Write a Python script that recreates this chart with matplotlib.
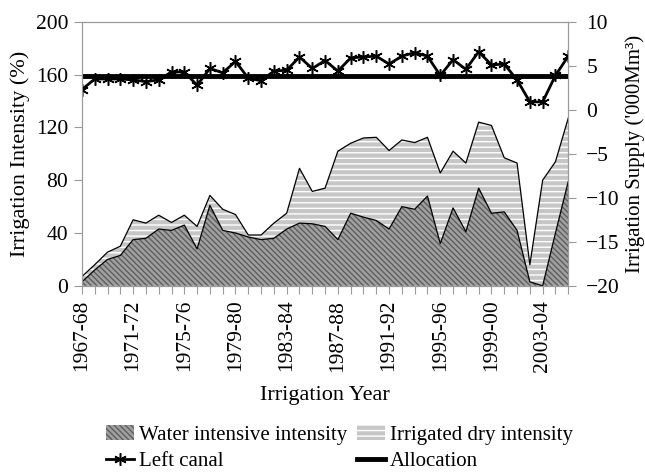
import numpy as np
import matplotlib
matplotlib.use("Agg")
import matplotlib.pyplot as plt
from matplotlib.patches import Patch
from matplotlib.lines import Line2D

plt.rcParams['font.family'] = ['Liberation Serif', 'DejaVu Serif']
plt.rcParams['hatch.linewidth'] = 1.0

# irrigation years, 1967-68 .. 2005-06
years = ['1967-68', '1968-69', '1969-70', '1970-71', '1971-72', '1972-73', '1973-74',
         '1974-75', '1975-76', '1976-77', '1977-78', '1978-79', '1979-80', '1980-81',
         '1981-82', '1982-83', '1983-84', '1984-85', '1985-86', '1986-87', '1987-88',
         '1988-89', '1989-90', '1990-91', '1991-92', '1992-93', '1993-94', '1994-95',
         '1995-96', '1996-97', '1997-98', '1998-99', '1999-00', '2000-01', '2001-02',
         '2002-03', '2003-04', '2004-05', '2005-06']

# irrigation intensity (%)
water_intensive = [3, 12, 20, 23, 35, 36, 43, 42, 46, 28, 61, 42, 40, 37, 35, 36, 43, 47.5, 47, 45,
                   35, 55, 52, 49.5, 43, 60, 58, 68, 32, 59, 41, 74, 55, 56, 42, 3, 0, 40, 79]
irrigated_dry = [4, 4, 5.5, 7, 15, 11.5, 10.5, 6, 7.5, 17, 7.5, 16, 14, 1.5, 3.5, 11.5, 12, 41.5, 24.5, 29,
                 67, 53, 60, 63, 59.5, 50.5, 50.5, 44.5, 53.5, 43, 52, 50, 66.5, 41, 51, 13, 80, 54, 48]

# irrigation supply ('000 Mm3)
left_canal = [2.3, 3.5, 3.5, 3.5, 3.4, 3.2, 3.4, 4.3, 4.3, 2.8, 4.7, 4.2, 5.5, 3.6, 3.3, 4.4, 4.5, 6.0, 4.7,
              5.6, 4.4, 5.9, 6.0, 6.1, 5.2, 6.1, 6.5, 6.1, 3.9, 5.7, 4.6, 6.6, 5.1, 5.2, 3.4, 0.9, 0.9, 3.9, 6.1]
allocation = 3.8

x = np.arange(len(years))
wi = np.array(water_intensive)
total = wi + np.array(irrigated_dry)

fig = plt.figure(figsize=(6.45, 4.74), dpi=100)
ax = fig.add_axes([0.127, 0.397, 0.754, 0.557])

dark_face, dark_hatch = '#a0a0a0', '#5e5e5e'
light_face, light_hatch = '#c6c6c6', 'white'
dark_pat, light_pat = '\\' * 6, '---'

ax.fill_between(x, 0, wi, facecolor=dark_face, edgecolor=dark_hatch, hatch=dark_pat, linewidth=0)
ax.fill_between(x, wi, total, facecolor=light_face, edgecolor=light_hatch, hatch=light_pat, linewidth=0)
ax.plot(x, wi, color='black', lw=0.9)
ax.plot(x, total, color='black', lw=0.9)

ax.set_xlim(0, len(years) - 1)
ax.set_ylim(0, 200)
ax.set_yticks(np.arange(0, 201, 40))
ax.set_xticks(x)
ax.set_xticklabels([y if i % 4 == 0 else '' for i, y in enumerate(years)], rotation=90)

ax2 = ax.twinx()
ax2.plot(x, left_canal, color='black', lw=2, marker=(6, 2, 0), ms=9, mew=1.1)
ax2.plot(x, [allocation] * len(x), color='black', lw=3.5)
ax2.set_ylim(-20, 10)
ax2.set_yticks(np.arange(-20, 11, 5))

frame = '#9a9a9a'
for a in (ax, ax2):
    for s in a.spines.values():
        s.set_color(frame)
    a.tick_params(colors=frame, labelcolor='black', labelsize=15.5, direction='out', length=6)
ax.tick_params(axis='x', pad=4)
ax.tick_params(axis='y', pad=4)
ax2.tick_params(axis='y', pad=7)

ax.set_xlabel('Irrigation Year', fontsize=16, labelpad=10)
ax.set_ylabel('Irrigation Intensity (%)', fontsize=16, labelpad=4)
ax2.set_ylabel("Irrigation Supply ('000Mm³)", fontsize=15, labelpad=4)

handles = [
    Patch(facecolor=dark_face, edgecolor=dark_hatch, hatch=dark_pat, linewidth=0),
    Line2D([], [], color='black', lw=2, marker=(6, 2, 0), ms=9, mew=1.1),
    Patch(facecolor=light_face, edgecolor=light_hatch, hatch=light_pat, linewidth=0),
    Line2D([], [], color='black', lw=3.5),
]
labels = ['Water intensive intensity', 'Left canal', 'Irrigated dry intensity', 'Allocation']
fig.legend(handles, labels, ncol=2, loc='lower left', bbox_to_anchor=(0.135, -0.033),
           frameon=False, fontsize=15, handlelength=1.35, handletextpad=0.25,
           columnspacing=0.45, labelspacing=0.3)

fig.savefig('out.png', dpi=100)
